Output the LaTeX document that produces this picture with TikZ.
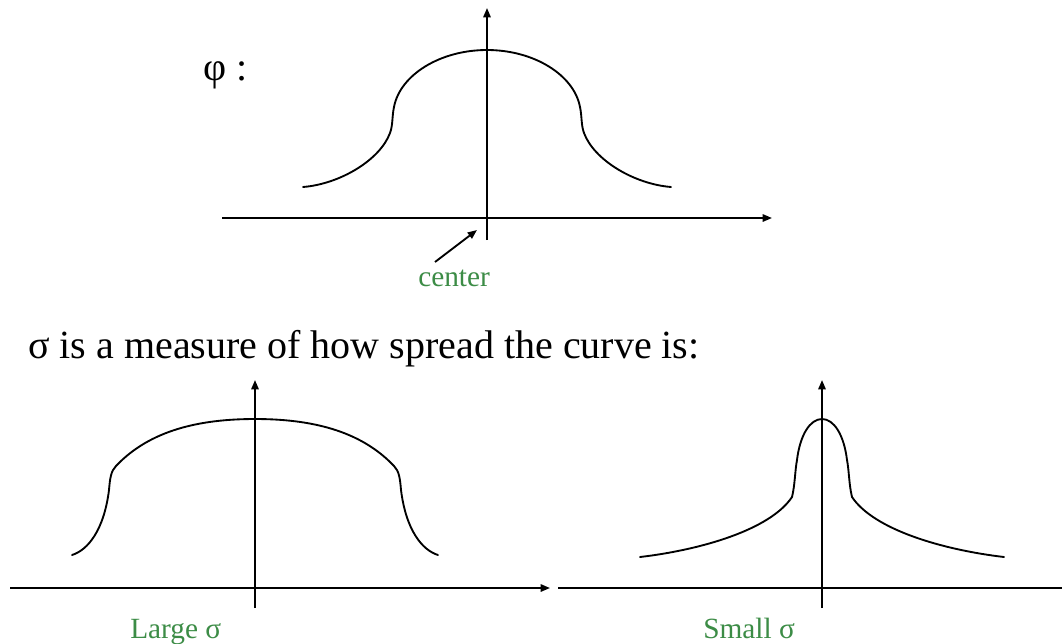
\documentclass[tikz,border=0pt]{standalone}
\usepackage{fontspec}
\setmainfont{Liberation Serif}
\usetikzlibrary{arrows.meta}
\definecolor{lblgreen}{RGB}{60,140,70}
\begin{document}
\begin{tikzpicture}[x=0.75pt,y=-0.75pt,
  axis/.style={line width=1.4pt, -{Triangle[length=7pt,width=5.5pt]}},
  plainaxis/.style={line width=1.4pt},
  curveline/.style={line width=1.4pt, line join=round, line cap=round},
  lbl/.style={text=lblgreen, font=\fontsize{22}{24}\selectfont, inner sep=0pt, anchor=base west},
  bigtxt/.style={font=\fontsize{30}{32}\selectfont, inner sep=0pt, anchor=base west},
]
\useasboundingbox (0,0) rectangle (1062,643);

% ---------- top plot ----------
\coordinate (tx0) at (222,218); \coordinate (tx1) at (772,218);
\coordinate (ty0) at (487,240); \coordinate (ty1) at (487,8);
\draw[axis] (tx0) -- (tx1);
\draw[axis] (ty0) -- (ty1);
\draw[curveline] (303,187) .. controls (340,184) and (380,160) .. (390,133)
  .. controls (393,125) and (392,116) .. (394,107)
  .. controls (400,75) and (440,50) .. (487,50)
  .. controls (534,50) and (574,75) .. (580,107)
  .. controls (582,116) and (581,125) .. (584,133)
  .. controls (594,160) and (634,184) .. (671,187);

\node[bigtxt] (phi) at (203,80) {φ :};

\node[lbl] (center) at (418,286) {center};
\coordinate (ctail) at (435,262);
\coordinate (chead) at (477,230);
\draw[line width=1.4pt, -{Triangle[length=7pt,width=5.5pt]}] (ctail) -- (chead);

% ---------- title ----------
\node[bigtxt] (title) at (28,358) {σ is a measure of how spread the curve is:};

% ---------- bottom-left plot (large sigma) ----------
\coordinate (lx0) at (10,588); \coordinate (lx1) at (550,588);
\coordinate (ly0) at (255,608); \coordinate (ly1) at (255,380);
\draw[axis] (lx0) -- (lx1);
\draw[axis] (ly0) -- (ly1);
\draw[curveline] (72,555) .. controls (88,550) and (104,530) .. (109,490)
  .. controls (110,478) and (111,471) .. (116,466)
  .. controls (150,430) and (200,419) .. (255,419)
  .. controls (310,419) and (360,430) .. (394,466)
  .. controls (399,471) and (400,478) .. (401,490)
  .. controls (406,530) and (422,550) .. (438,555);
\node[lbl] (large) at (130,638) {Large σ};

% ---------- bottom-right plot (small sigma) ----------
\coordinate (rx0) at (558,588); \coordinate (rx1) at (1062,588);
\coordinate (ry0) at (822,608); \coordinate (ry1) at (822,380);
\draw[plainaxis] (rx0) -- (rx1);
\draw[axis] (ry0) -- (ry1);
\draw[curveline] (640,557) .. controls (700,550) and (770,530) .. (792,497)
  .. controls (795,485) and (795,470) .. (797,460)
  .. controls (800,435) and (810,419) .. (822,419)
  .. controls (834,419) and (844,435) .. (847,460)
  .. controls (849,470) and (849,485) .. (852,497)
  .. controls (874,530) and (944,550) .. (1004,557);
\node[lbl] (small) at (703,638) {Small σ};
\end{tikzpicture}
\end{document}
